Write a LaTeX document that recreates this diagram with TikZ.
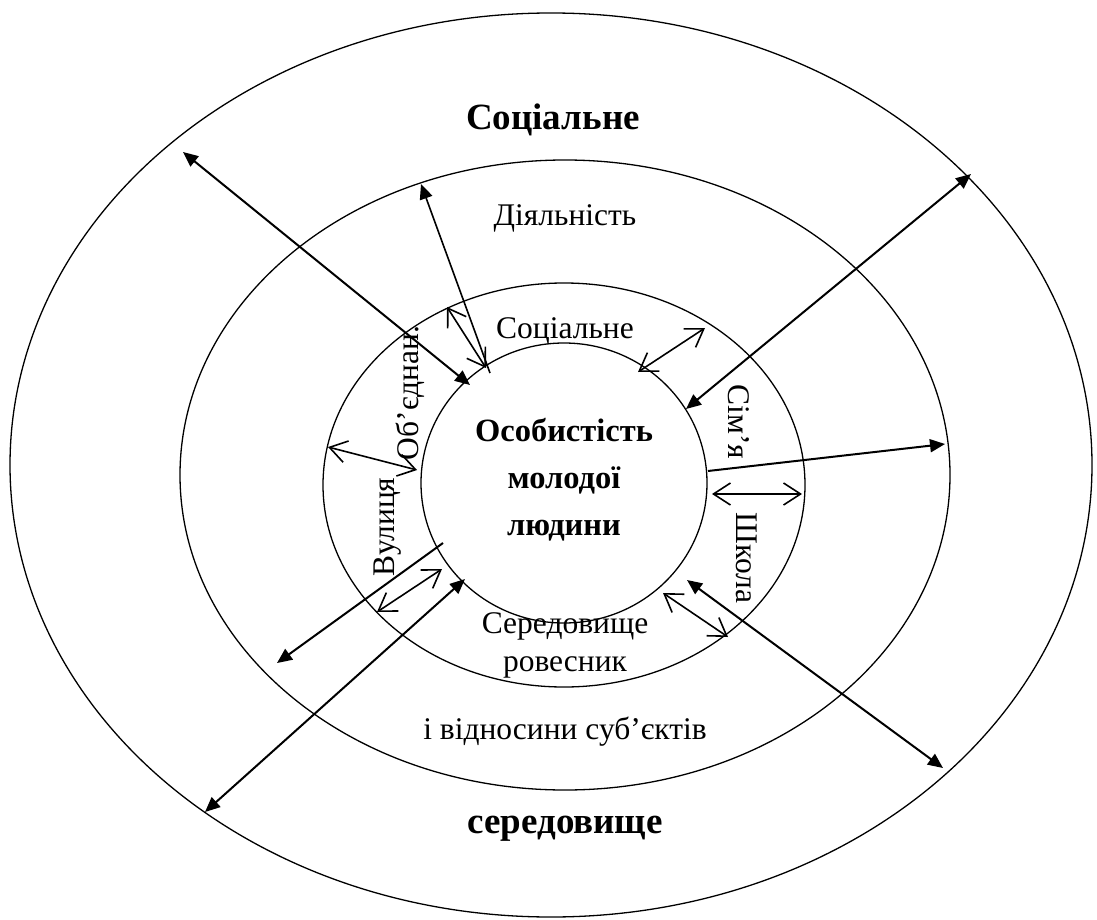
\documentclass[tikz,border=0pt]{standalone}
\usepackage{fontspec}
\setmainfont{Liberation Serif}
\usetikzlibrary{arrows.meta}
\begin{document}
\begin{tikzpicture}[x=1pt,y=-1pt,
  ring/.style={draw,line width=1.3pt},
  ftip/.tip={Triangle[length=15pt,width=13pt]},
  otip/.tip={Straight Barb[length=17pt,width=22pt]},
  fatboth/.style={line width=2pt,ftip-ftip},
  fatone/.style={line width=2pt,-ftip},
  thinone/.style={line width=1.6pt,ftip-},
  openboth/.style={line width=1.6pt,otip-otip},
  bigbold/.style={font=\fontsize{37}{40}\selectfont\bfseries},
  midbold/.style={font=\fontsize{32.5}{47}\selectfont\bfseries,align=center},
  lbl/.style={font=\fontsize{31.5}{34}\selectfont}]
\useasboundingbox (0,0) rectangle (1097,920);
\fill[white] (0,0) rectangle (1097,920);
% rings
\draw[ring] (551,465) ellipse [x radius=541, y radius=452];
\draw[ring] (565,475) ellipse [x radius=385, y radius=315];
\draw[ring] (564,485) ellipse [x radius=241, y radius=202];
\draw[ring] (564,483) ellipse [x radius=143, y radius=140];
% texts
\node[bigbold] (soc) at (553,120) {Соціальне};
\node[lbl] (dial) at (565,218) {Діяльність};
\node[lbl] (soc2) at (565,331) {Соціальне};
\node[midbold] (pers) at (564,480) {Особистість\\молодої\\людини};
\node[lbl,rotate=90] (obj) at (410,393) {Об’єднан.};
\node[lbl,rotate=90] (vul) at (388,527) {Вулиця};
\node[lbl,rotate=-90] (sim) at (739,422) {Сім’я};
\node[lbl,rotate=-90] (shk) at (747,558) {Школа};
\node[lbl,anchor=base] (ser1) at (565,633) {Середовище};
\node[lbl,anchor=base] (ser2) at (565,671) {ровесник};
\node[lbl] (vid) at (565,732) {і відносини суб’єктів};
\node[bigbold] (sered) at (565,829) {середовище};
% arrow end points
\coordinate (a1s) at (183,152); \coordinate (a1e) at (470,385);
\coordinate (a2s) at (421,184); \coordinate (a2e) at (490,373);
\coordinate (a3s) at (447,307); \coordinate (a3e) at (486,368);
\coordinate (a4s) at (638,372); \coordinate (a4e) at (705,328);
\coordinate (a5s) at (971,174); \coordinate (a5e) at (686,409);
\coordinate (a6s) at (708,471); \coordinate (a6e) at (945,444);
\coordinate (a7s) at (712,494); \coordinate (a7e) at (802,494);
\coordinate (a8s) at (328,447); \coordinate (a8e) at (417,470);
\coordinate (a9s) at (443,543); \coordinate (a9e) at (277,663);
\coordinate (a10s) at (442,569); \coordinate (a10e) at (377,612);
\coordinate (a11s) at (465,579); \coordinate (a11e) at (205,812);
\coordinate (a12s) at (687,580); \coordinate (a12e) at (943,768);
\coordinate (a13s) at (663,593); \coordinate (a13e) at (728,637);
% connectors
\draw[fatboth] (a1s) -- (a1e);
\draw[thinone] (a2s) -- (a2e);
\draw[openboth] (a3s) -- (a3e);
\draw[openboth] (a4s) -- (a4e);
\draw[fatboth] (a5s) -- (a5e);
\draw[fatone] (a6s) -- (a6e);
\draw[openboth] (a7s) -- (a7e);
\draw[openboth] (a8s) -- (a8e);
\draw[fatone] (a9s) -- (a9e);
\draw[openboth] (a10s) -- (a10e);
\draw[fatboth] (a11s) -- (a11e);
\draw[fatboth] (a12s) -- (a12e);
\draw[openboth] (a13s) -- (a13e);
\end{tikzpicture}
\end{document}
